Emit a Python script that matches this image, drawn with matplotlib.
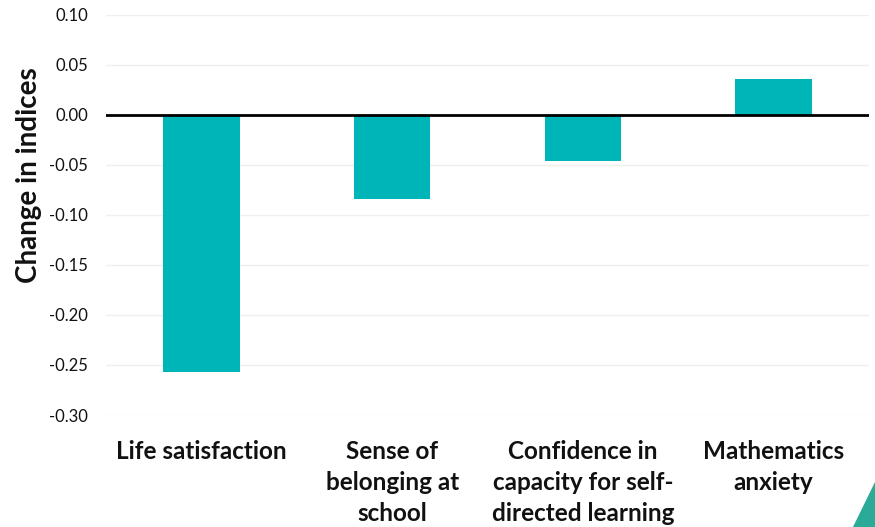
#!/usr/bin/env python3
"""Bar chart of changes in wellbeing-related indices."""

import matplotlib.pyplot as plt
from matplotlib.patches import Polygon

categories = [
    "Life satisfaction",
    "Sense of\nbelonging at\nschool",
    "Confidence in\ncapacity for self-\ndirected learning",
    "Mathematics\nanxiety",
]
changes = [-0.257, -0.084, -0.046, 0.036]
y_ticks = [-0.30, -0.25, -0.20, -0.15, -0.10, -0.05, 0.00, 0.05, 0.10]

BAR_COLOR = "#00B5B8"
FONT = ["Lato", "DejaVu Sans"]

plt.rcParams["font.family"] = FONT

fig = plt.figure(figsize=(8.75, 5.27), dpi=100)
ax = fig.add_axes([106 / 875, 1 - 415 / 527, (869 - 106) / 875, (415 - 14.5) / 527])

x = range(len(categories))
ax.bar(x, changes, width=0.40, color=BAR_COLOR, zorder=2)
ax.axhline(0, color="black", linewidth=2, zorder=3)

ax.set_xlim(-0.5, len(categories) - 0.5)
ax.set_ylim(-0.30, 0.10)
ax.set_yticks(y_ticks)
ax.set_yticklabels([f"{v:.2f}" for v in y_ticks], fontsize=12, color="#111111")
ax.set_xticks(list(x))
ax.set_xticklabels(categories, fontsize=17.5, fontweight="bold", linespacing=1.42,
                   va="top", color="#111111")
ax.tick_params(axis="both", length=0)
ax.tick_params(axis="y", pad=13)
ax.tick_params(axis="x", pad=18)
ax.grid(axis="y", color="#efefef", linewidth=1, zorder=0)
for spine in ax.spines.values():
    spine.set_visible(False)

fig.text(29 / 875, 1 - 175 / 527, "Change in indices", rotation=90,
         ha="center", va="center", fontsize=20, fontweight="bold", color="#111111")

# small accent shape in the lower right corner
w, h = fig.bbox.width, fig.bbox.height
corner = Polygon([(853 / w, 0), (1, 0), (1, (527 - 482) / h)], closed=True,
                 transform=fig.transFigure, color="#2BAA98", zorder=5)
fig.patches.append(corner)

fig.savefig("out.png", dpi=100)
